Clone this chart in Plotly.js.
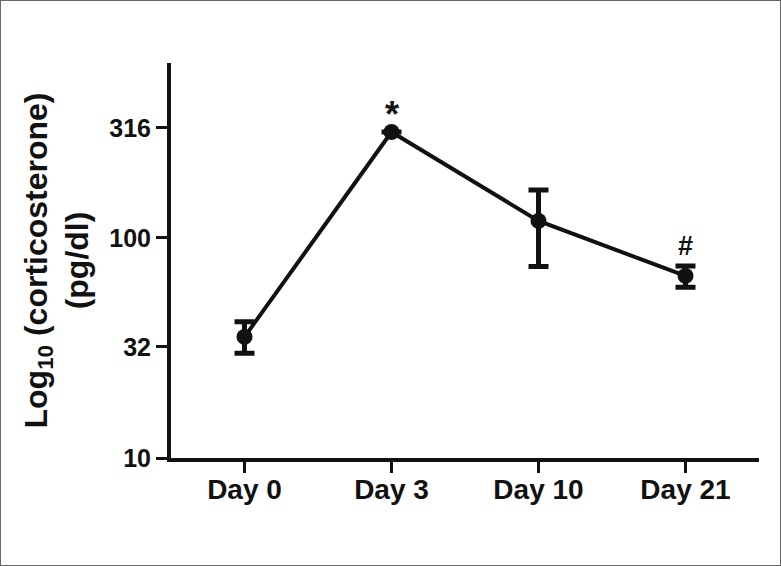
<!DOCTYPE html>
<html>
<head>
<meta charset="utf-8">
<script src="https://cdn.plot.ly/plotly-3.0.1.min.js"></script>
<style>
  body { margin: 0; }
  #wrap { position: relative; width: 781px; height: 566px; }
  #frame { position: absolute; left: 0; top: 0; width: 779px; height: 564px; border: 1px solid #666; pointer-events: none; }
</style>
</head>
<body>
<div id="wrap">
  <div id="chart" style="width:781px;height:566px;"></div>
  <div id="frame"></div>
</div>
<script>
var days = ['Day 0', 'Day 3', 'Day 10', 'Day 21'];
var meanVals = [35.5, 303, 119.5, 67.2];
// Day 3 error is hidden behind the marker in the original
var upperVals = [41.6, null, 165, 74.6];
var lowerVals = [29.9, null, 74.1, 59.7];
var yTicks = [10, 32, 100, 316];
var marks = ['', '*', '', '#'];

var errPlus = meanVals.map(function (v, i) { return upperVals[i] == null ? null : upperVals[i] - v; });
var errMinus = meanVals.map(function (v, i) { return lowerVals[i] == null ? null : v - lowerVals[i]; });

var trace1 = {
  x: days,
  y: meanVals,
  mode: 'lines+markers',
  line: { color: '#111', width: 4 },
  marker: { color: '#111', size: 16 },
  error_y: {
    type: 'data',
    symmetric: false,
    array: errPlus,
    arrayminus: errMinus,
    color: '#111',
    thickness: 5,
    width: 10
  },
  hoverinfo: 'none'
};

var notes = [];
days.forEach(function (d, i) {
  if (!marks[i]) return;
  var top = upperVals[i] == null ? meanVals[i] : upperVals[i];
  notes.push({
    x: d, y: Math.log10(top), xref: 'x', yref: 'y',
    text: '<b>' + marks[i] + '</b>', showarrow: false, yanchor: 'bottom',
    yshift: marks[i] == '*' ? -5 : 3,
    font: { family: 'Liberation Sans, Arial, sans-serif', size: marks[i] == '*' ? 36 : 27, color: '#111' }
  });
});
notes.push({
  xref: 'paper', yref: 'paper', x: (56 - 171) / 588, y: 0.5,
  xanchor: 'center', yanchor: 'middle',
  text: '<b>Log<sub>10</sub> (corticosterone)<br>(pg/dl)</b>',
  textangle: -90, showarrow: false,
  font: { family: 'Liberation Sans, Arial, sans-serif', size: 32, color: '#111' }
});

var layout = {
  width: 781,
  height: 566,
  margin: { l: 171, r: 22, t: 63, b: 108 },
  paper_bgcolor: '#fff',
  plot_bgcolor: '#fff',
  showlegend: false,
  font: { family: 'Liberation Sans, Arial, sans-serif', color: '#111' },
  xaxis: {
    type: 'category',
    range: [-0.5, 3.5],
    showline: true, linecolor: '#111', linewidth: 4,
    showgrid: false, zeroline: false,
    ticks: 'outside', ticklen: 11, tickwidth: 3, tickcolor: '#111',
    ticklabelstandoff: -8,
    tickfont: { size: 28, weight: 'bold' }
  },
  yaxis: {
    type: 'log',
    range: [1, 2.795],
    tickvals: yTicks,
    ticktext: yTicks.map(String),
    showline: true, linecolor: '#111', linewidth: 4,
    showgrid: false, zeroline: false,
    ticks: 'outside', ticklen: 11, tickwidth: 3, tickcolor: '#111',
    tickfont: { size: 25, weight: 'bold' }
  },
  annotations: notes
};

Plotly.newPlot('chart', [trace1], layout, { displayModeBar: false, staticPlot: true });
</script>
</body>
</html>
